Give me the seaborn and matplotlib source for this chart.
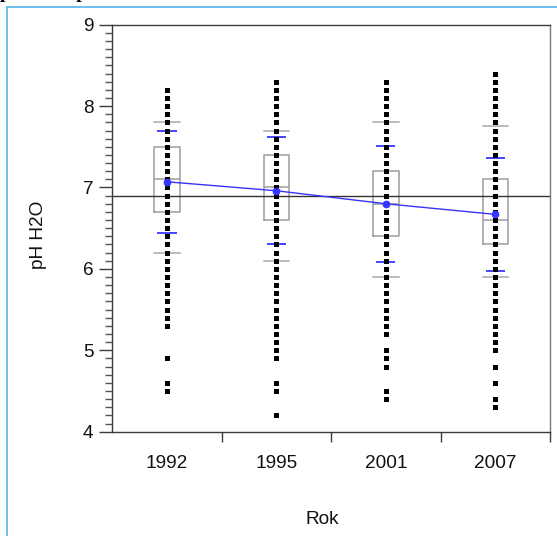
import matplotlib
matplotlib.use("Agg")
import matplotlib.pyplot as plt
from matplotlib.lines import Line2D
from matplotlib.ticker import FixedLocator, MultipleLocator
import seaborn as sns
import pandas as pd

# pH H2O measurements per survey year (distinct values shown in the dot column)
years = ["1992", "1995", "2001", "2007"]
ph_1992 = [8.2, 8.1, 8.0, 7.9, 7.8, 7.7, 7.6, 7.5, 7.4, 7.3, 7.2, 7.1, 7.0, 6.9,
           6.8, 6.7, 6.6, 6.5, 6.4, 6.3, 6.2, 6.1, 6.0, 5.9, 5.8, 5.7, 5.6, 5.5,
           5.4, 5.3, 4.9, 4.6, 4.5]
ph_1995 = [8.3, 8.2, 8.1, 8.0, 7.9, 7.8, 7.7, 7.6, 7.5, 7.4, 7.3, 7.2, 7.1, 7.0,
           6.9, 6.8, 6.7, 6.6, 6.5, 6.4, 6.3, 6.2, 6.1, 6.0, 5.9, 5.8, 5.7, 5.6,
           5.5, 5.4, 5.3, 5.2, 5.1, 5.0, 4.9, 4.6, 4.5, 4.2]
ph_2001 = [8.3, 8.2, 8.1, 8.0, 7.9, 7.8, 7.7, 7.6, 7.5, 7.4, 7.3, 7.2, 7.1, 7.0,
           6.9, 6.8, 6.7, 6.6, 6.5, 6.4, 6.3, 6.2, 6.1, 6.0, 5.9, 5.8, 5.7, 5.6,
           5.5, 5.4, 5.3, 5.2, 5.0, 4.9, 4.8, 4.5, 4.4]
ph_2007 = [8.4, 8.3, 8.2, 8.1, 8.0, 7.9, 7.8, 7.7, 7.6, 7.5, 7.4, 7.3, 7.2, 7.1,
           7.0, 6.9, 6.8, 6.7, 6.6, 6.5, 6.4, 6.3, 6.2, 6.1, 6.0, 5.9, 5.8, 5.7,
           5.6, 5.5, 5.4, 5.3, 5.2, 5.1, 5.0, 4.8, 4.6, 4.4, 4.3]

# Group summaries: quantile boxes (10/25/50/75/90 %) and mean +- std dev
p10 = [6.2, 6.1, 5.9, 5.9]
q1 = [6.7, 6.6, 6.4, 6.3]
median = [7.1, 7.0, 6.8, 6.6]
q3 = [7.5, 7.4, 7.2, 7.1]
p90 = [7.8, 7.7, 7.8, 7.75]
means = [7.07, 6.96, 6.80, 6.67]
std_dev = [0.63, 0.66, 0.71, 0.69]
grand_mean = 6.9

points = pd.DataFrame({
    "Rok": sum([[y] * len(v) for y, v in zip(years, [ph_1992, ph_1995, ph_2001, ph_2007])], []),
    "pH H2O": ph_1992 + ph_1995 + ph_2001 + ph_2007,
})
mean_df = pd.DataFrame({"Rok": years, "pH H2O": means})

sns.set_style("white")
plt.rcParams["font.family"] = ["Liberation Sans", "DejaVu Sans"]

W, H = 557, 536
fig = plt.figure(figsize=(W / 100, H / 100), dpi=100)
fig.patch.set_facecolor("white")
ax = fig.add_axes([112.3 / W, 1 - 431.7 / H, (550 - 112.3) / W, (431.7 - 24.7) / H])

box_col = "#9c9c9c"
tick_col = "#bcbcbc"
blue = "#3535ff"
axis_col = "#3c3c3c"

pos = list(range(len(years)))
stats = [dict(med=m, q1=a, q3=b, whislo=lo, whishi=hi, label=y)
         for y, m, a, b, lo, hi in zip(years, median, q1, q3, p10, p90)]
ax.bxp(stats, positions=pos, widths=0.232, capwidths=0.232, showfliers=False,
       boxprops=dict(color=box_col, lw=1.1),
       medianprops=dict(color=box_col, lw=1.1),
       whiskerprops=dict(visible=False),
       capprops=dict(color=tick_col, lw=1.4),
       manage_ticks=False, zorder=1)

# mean +- one standard deviation
ax.hlines([m + s for m, s in zip(means, std_dev)], [p - 0.087 for p in pos],
          [p + 0.087 for p in pos], color=blue, lw=1.3, zorder=2)
ax.hlines([m - s for m, s in zip(means, std_dev)], [p - 0.087 for p in pos],
          [p + 0.087 for p in pos], color=blue, lw=1.3, zorder=2)

ax.axhline(grand_mean, color="#333333", lw=1.0, zorder=2)

sns.stripplot(data=points, x="Rok", y="pH H2O", order=years, jitter=False,
              marker="s", size=3.6, color="black", linewidth=0, ax=ax, zorder=3)

sns.pointplot(data=mean_df, x="Rok", y="pH H2O", order=years, color=blue,
              markers="o", markersize=4.8, linewidth=1.0, errorbar=None,
              ax=ax, zorder=4)

ax.set_xlim(-0.5, 3.5)
ax.set_ylim(4, 9)

# axis frame
for side in ["left", "bottom", "top", "right"]:
    ax.spines[side].set_visible(True)
    ax.spines[side].set_color(axis_col)
    ax.spines[side].set_linewidth(1.0)
ax.spines["right"].set_color("#777777")

ax.yaxis.set_major_locator(MultipleLocator(1))
ax.yaxis.set_minor_locator(MultipleLocator(0.1))
ax.tick_params(axis="y", which="major", direction="out", length=9.4, width=1,
               color=axis_col, pad=4.3, labelsize=13.7, labelcolor="#111111",
               left=True, right=False)
ax.tick_params(axis="y", which="minor", direction="out", length=4.8, width=1,
               color="#555555", left=True, right=False)

ax.set_xticks(pos)
ax.set_xticklabels(years)
ax.xaxis.set_minor_locator(FixedLocator([0.5, 1.5, 2.5, 3.5]))
ax.tick_params(axis="x", which="major", length=0, pad=17, labelsize=13.7,
               labelcolor="#111111", bottom=True, top=False)
ax.tick_params(axis="x", which="minor", direction="out", length=7.2, width=1,
               color=axis_col, bottom=True, top=False)

ax.set_xlabel("Rok", fontsize=13.7, color="#111111")
ax.xaxis.set_label_coords((322 - 112.3) / (550 - 112.3), (431.7 - 511) / 407)
ax.xaxis.label.set_va("top")
ax.set_ylabel("pH H2O", fontsize=13.7, color="#111111")
ax.yaxis.set_label_coords((47 - 112.3) / (550 - 112.3), (431.7 - 235) / 407)

# report panel border
frame_col = "#56b4e6"
fig.add_artist(Line2D([7.3 / W, 7.3 / W], [0, 1 - 7.3 / H], color=frame_col, lw=1.2))
fig.add_artist(Line2D([7.3 / W, 1], [1 - 7.3 / H, 1 - 7.3 / H], color=frame_col, lw=1.2))

# report heading above the panel (only its lower edge falls on the canvas)
fig.text(0.0, 1 + 2.3 / H, "pH H2O podle Rok", fontfamily="Liberation Serif",
         fontweight="bold", fontsize=14, ha="left", va="baseline", color="black")

fig.savefig("out.png", dpi=100)
